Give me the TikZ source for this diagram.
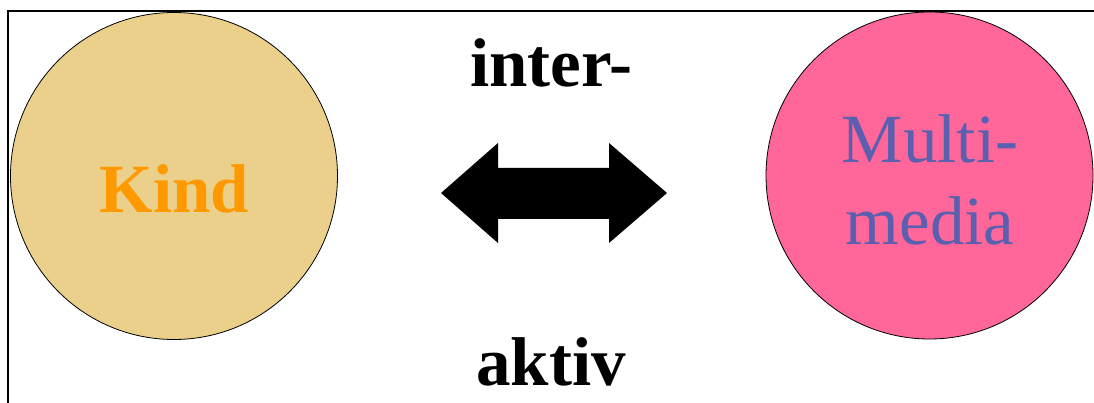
\documentclass[tikz,border=0pt]{standalone}
\usepackage{fontspec}
\setmainfont{Liberation Serif}
\definecolor{tan}{RGB}{234,208,138}
\definecolor{pinkc}{RGB}{255,102,153}
\definecolor{orangec}{RGB}{255,153,0}
\definecolor{bluec}{RGB}{90,95,175}
\begin{document}
\begin{tikzpicture}[x=1pt,y=-1pt,
  bubble/.style={circle,draw=black,line width=0.8pt,minimum size=327pt,inner sep=0pt},
  bigtext/.style={font=\fontsize{69}{82}\selectfont\bfseries,anchor=base,inner sep=0pt},
  mmtext/.style={font=\fontsize{69}{82}\selectfont,anchor=base,inner sep=0pt,text=bluec}]
\useasboundingbox (0,0) rectangle (1094,403);
\draw[line width=2.2pt] (8,404) -- (8,11) -- (1095,11);
\node[bubble,fill=tan] (kind) at (174,176) {};
\node[bubble,fill=pinkc] (mm) at (929.5,175.5) {};
\node[bigtext,text=orangec] (kindt) at (174.5,213) {Kind};
\node[mmtext] (multi) at (930,163) {Multi-};
\node[mmtext] (media) at (930,245) {media};
\node[bigtext] (inter) at (551.5,87) {inter-};
\node[bigtext] (aktiv) at (551,385) {aktiv};
\fill[black] (441,193) -- (498,143) -- (498,168) -- (609,168) -- (609,143) -- (667,193)
  -- (609,243) -- (609,219) -- (498,219) -- (498,243) -- cycle;
\end{tikzpicture}
\end{document}
